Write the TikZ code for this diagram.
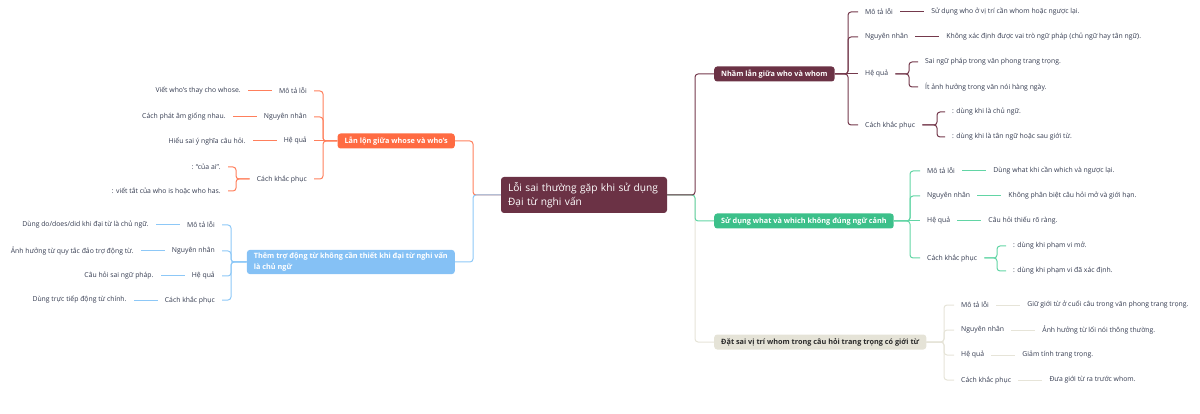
\documentclass[tikz,border=0pt]{standalone}
\usepackage{fontspec}
\setmainfont{Open Sans}
\usetikzlibrary{positioning}
\definecolor{maroon}{HTML}{6B3245}
\definecolor{maroonl}{HTML}{74394C}
\definecolor{greenf}{HTML}{3CC08A}
\definecolor{greenl}{HTML}{62D5A5}
\definecolor{beigef}{HTML}{E5E3D7}
\definecolor{beigel}{HTML}{E6E4D8}
\definecolor{orangef}{HTML}{FF6B42}
\definecolor{orangel}{HTML}{FF7F5C}
\definecolor{bluef}{HTML}{85C1F5}
\definecolor{bluel}{HTML}{8DC8F7}
\definecolor{leafc}{HTML}{333A4F}
\definecolor{darkt}{HTML}{2B2B2B}
\tikzset{
  leaf/.style={inner xsep=7pt, inner ysep=2pt, font=\fontsize{6.85}{8}\selectfont, text=leafc},
  br/.style={rounded corners=3pt, inner xsep=7pt, inner ysep=3pt, minimum height=15pt,
    font=\bfseries\fontsize{7.3}{10.5}\selectfont, text=white},
  root/.style={rounded corners=3pt, fill=maroon, text=white, inner xsep=7pt, inner ysep=4pt,
    text width=152pt, align=left, minimum height=36pt, font=\fontsize{10.2}{13.5}\selectfont},
  conn/.style={line width=1pt, rounded corners=3pt},
  node distance=24pt
}
\begin{document}
\begin{tikzpicture}[x=1pt,y=-1pt]
\useasboundingbox (0,0) rectangle (1200,414);
% root
\node[root] (c) at (584,195) {Lỗi sai thường gặp khi sử dụng\\Đại từ nghi vấn};
% branches
\node[br, fill=maroon, anchor=west] (b1) at (714,74) {Nhầm lẫn giữa who và whom};
\node[br, fill=greenf, anchor=west] (b2) at (714,221) {Sử dụng what và which không đúng ngữ cảnh};
\node[br, fill=beigef, text=darkt, anchor=west] (b3) at (714,342) {Đặt sai vị trí whom trong câu hỏi trang trọng có giới từ};
\node[br, fill=orangef, anchor=east] (b4) at (455,141) {Lẫn lộn giữa whose và who’s};
\node[br, fill=bluef, anchor=east, align=left] (b5) at (455,262) {Thêm trợ động từ không cần thiết khi đại từ nghi vấn\\là chủ ngữ};
% branch 1
\node[leaf, anchor=west] (m1) at (858,12) {Mô tả lỗi};
\node[leaf, anchor=west] (n1) at (858,37) {Nguyên nhân};
\node[leaf, anchor=west] (h1) at (858,74) {Hệ quả};
\node[leaf, anchor=west] (k1) at (858,125) {Cách khắc phục};
\node[leaf, right=of m1] (m1a) {Sử dụng who ở vị trí cần whom hoặc ngược lại.};
\node[leaf, right=of n1] (n1a) {Không xác định được vai trò ngữ pháp (chủ ngữ hay tân ngữ).};
\node[leaf, anchor=west] (h1a) at (918,62) {Sai ngữ pháp trong văn phong trang trọng.};
\node[leaf, anchor=west] (h1b) at (918,87) {Ít ảnh hưởng trong văn nói hàng ngày.};
\node[leaf, anchor=west] (k1a) at (945,112) {: dùng khi là chủ ngữ.};
\node[leaf, anchor=west] (k1b) at (945,137) {: dùng khi là tân ngữ hoặc sau giới từ.};
% branch 2
\node[leaf, anchor=west] (m2) at (920,171) {Mô tả lỗi};
\node[leaf, anchor=west] (n2) at (920,196) {Nguyên nhân};
\node[leaf, anchor=west] (h2) at (920,221) {Hệ quả};
\node[leaf, anchor=west] (k2) at (920,258) {Cách khắc phục};
\node[leaf, right=of m2] (m2a) {Dùng what khi cần which và ngược lại.};
\node[leaf, right=of n2] (n2a) {Không phân biệt câu hỏi mở và giới hạn.};
\node[leaf, right=of h2] (h2a) {Câu hỏi thiếu rõ ràng.};
\node[leaf, anchor=west] (k2a) at (1006,246) {: dùng khi phạm vi mở.};
\node[leaf, anchor=west] (k2b) at (1006,271) {: dùng khi phạm vi đã xác định.};
% branch 3
\node[leaf, anchor=west] (m3) at (954,305) {Mô tả lỗi};
\node[leaf, anchor=west] (n3) at (954,330) {Nguyên nhân};
\node[leaf, anchor=west] (h3) at (954,355) {Hệ quả};
\node[leaf, anchor=west] (k3) at (954,380) {Cách khắc phục};
\node[leaf, right=of m3] (m3a) {Giữ giới từ ở cuối câu trong văn phong trang trọng.};
\node[leaf, right=of n3] (n3a) {Ảnh hưởng từ lối nói thông thường.};
\node[leaf, right=of h3] (h3a) {Giảm tính trang trọng.};
\node[leaf, right=of k3] (k3a) {Đưa giới từ ra trước whom.};
% branch 4
\node[leaf, anchor=east] (m4) at (314,91) {Mô tả lỗi};
\node[leaf, anchor=east] (n4) at (314,117) {Nguyên nhân};
\node[leaf, anchor=east] (h4) at (314,141) {Hệ quả};
\node[leaf, anchor=east] (k4) at (314,179) {Cách khắc phục};
\node[leaf, left=of m4] (m4a) {Viết who’s thay cho whose.};
\node[leaf, left=of n4] (n4a) {Cách phát âm giống nhau.};
\node[leaf, left=of h4] (h4a) {Hiểu sai ý nghĩa câu hỏi.};
\node[leaf, anchor=east] (k4a) at (228,167) {: “của ai”.};
\node[leaf, anchor=east] (k4b) at (228,191) {: viết tắt của who is hoặc who has.};
% branch 5
\node[leaf, anchor=east] (m5) at (222,225) {Mô tả lỗi};
\node[leaf, anchor=east] (n5) at (222,251) {Nguyên nhân};
\node[leaf, anchor=east] (h5) at (222,276) {Hệ quả};
\node[leaf, anchor=east] (k5) at (222,300) {Cách khắc phục};
\node[leaf, left=of m5] (m5a) {Dùng do/does/did khi đại từ là chủ ngữ.};
\node[leaf, left=of n5] (n5a) {Ảnh hưởng từ quy tắc đảo trợ động từ.};
\node[leaf, left=of h5] (h5a) {Câu hỏi sai ngữ pháp.};
\node[leaf, left=of k5] (k5a) {Dùng trực tiếp động từ chính.};

% ---- connectors: root to branches
\draw[conn, beigel] (c.east) -| ([xshift=-19pt]b3.west) -- (b3.west);
\draw[conn, greenl] (c.east) -| ([xshift=-19pt]b2.west) -- (b2.west);
\draw[conn, maroonl] (c.east) -| ([xshift=-19pt]b1.west) -- (b1.west);
\draw[conn, orangel] (c.west) -| ([xshift=18pt]b4.east) -- (b4.east);
\draw[conn, bluel] (c.west) -| ([xshift=18pt]b5.east) -- (b5.east);

% branch 1
\begin{scope}[conn, maroonl]
\draw (b1.east) -| ([xshift=-10pt]m1.west) -- (m1.west);
\draw (b1.east) -| ([xshift=-10pt]n1.west) -- (n1.west);
\draw (b1.east) -- (h1.west);
\draw (b1.east) -| ([xshift=-10pt]k1.west) -- (k1.west);
\draw (m1.east) -- (m1a.west);
\draw (n1.east) -- (n1a.west);
\draw (h1.east) -| ([xshift=-9pt]h1a.west) -- (h1a.west);
\draw (h1.east) -| ([xshift=-9pt]h1b.west) -- (h1b.west);
\draw (k1.east) -| ([xshift=-8pt]k1a.west) -- (k1a.west);
\draw (k1.east) -| ([xshift=-8pt]k1b.west) -- (k1b.west);
\end{scope}
% branch 2
\begin{scope}[conn, greenl]
\draw (b2.east) -| ([xshift=-10pt]m2.west) -- (m2.west);
\draw (b2.east) -| ([xshift=-10pt]n2.west) -- (n2.west);
\draw (b2.east) -- (h2.west);
\draw (b2.east) -| ([xshift=-10pt]k2.west) -- (k2.west);
\draw (m2.east) -- (m2a.west);
\draw (n2.east) -- (n2a.west);
\draw (h2.east) -- (h2a.west);
\draw (k2.east) -| ([xshift=-9pt]k2a.west) -- (k2a.west);
\draw (k2.east) -| ([xshift=-9pt]k2b.west) -- (k2b.west);
\end{scope}
% branch 3
\begin{scope}[conn, beigel]
\draw (b3.east) -| ([xshift=-10pt]m3.west) -- (m3.west);
\draw (b3.east) -| ([xshift=-10pt]n3.west) -- (n3.west);
\draw (b3.east) -| ([xshift=-10pt]h3.west) -- (h3.west);
\draw (b3.east) -| ([xshift=-10pt]k3.west) -- (k3.west);
\draw (m3.east) -- (m3a.west);
\draw (n3.east) -- (n3a.west);
\draw (h3.east) -- (h3a.west);
\draw (k3.east) -- (k3a.west);
\end{scope}
% branch 4
\begin{scope}[conn, orangel]
\draw (b4.west) -| ([xshift=9pt]m4.east) -- (m4.east);
\draw (b4.west) -| ([xshift=9pt]n4.east) -- (n4.east);
\draw (b4.west) -- (h4.east);
\draw (b4.west) -| ([xshift=9pt]k4.east) -- (k4.east);
\draw (m4.west) -- (m4a.east);
\draw (n4.west) -- (n4a.east);
\draw (h4.west) -- (h4a.east);
\draw (k4.west) -| ([xshift=8pt]k4a.east) -- (k4a.east);
\draw (k4.west) -| ([xshift=8pt]k4b.east) -- (k4b.east);
\end{scope}
% branch 5
\begin{scope}[conn, bluel]
\draw (b5.west) -| ([xshift=9pt]m5.east) -- (m5.east);
\draw (b5.west) -| ([xshift=9pt]n5.east) -- (n5.east);
\draw (b5.west) -| ([xshift=9pt]h5.east) -- (h5.east);
\draw (b5.west) -| ([xshift=9pt]k5.east) -- (k5.east);
\draw (m5.west) -- (m5a.east);
\draw (n5.west) -- (n5a.east);
\draw (h5.west) -- (h5a.east);
\draw (k5.west) -- (k5a.east);
\end{scope}
\end{tikzpicture}
\end{document}
